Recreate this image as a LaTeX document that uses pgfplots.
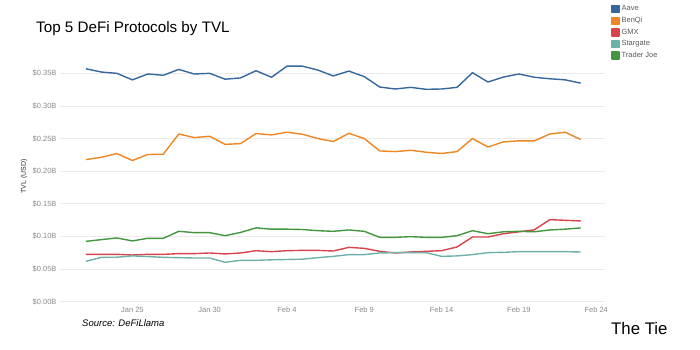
\documentclass[border=0pt]{standalone}
\usepackage{pgfplots}
\pgfplotsset{compat=1.18}
\usepackage{pgfplotstable}
\usepackage{fontspec}
\setmainfont{Liberation Sans}
\definecolor{aave}{HTML}{36689C}
\definecolor{benqi}{HTML}{EE8623}
\definecolor{gmx}{HTML}{D9434B}
\definecolor{stargate}{HTML}{6FB0AD}
\definecolor{tj}{HTML}{43963F}
\definecolor{tickgrey}{HTML}{8A8A8A}
\definecolor{gridgrey}{HTML}{EBEBEB}
\pgfplotstableread{
d aave benqi gmx stargate tj
22 0.357 0.2178 0.0724 0.0617 0.0923
23 0.352 0.2213 0.0724 0.0678 0.0950
24 0.350 0.2270 0.0724 0.0680 0.0975
25 0.340 0.2163 0.0714 0.0700 0.0930
26 0.349 0.2255 0.0724 0.0690 0.0970
27 0.347 0.2260 0.0724 0.0678 0.0970
28 0.356 0.2570 0.0735 0.0673 0.1077
29 0.349 0.2515 0.0735 0.0668 0.1057
30 0.350 0.2535 0.0745 0.0668 0.1057
31 0.341 0.2410 0.0730 0.0602 0.1010
32 0.343 0.2423 0.0745 0.0632 0.1060
33 0.354 0.2577 0.0780 0.0632 0.1130
34 0.344 0.2556 0.0765 0.0640 0.1110
35 0.361 0.2597 0.0780 0.0645 0.1110
36 0.361 0.2566 0.0785 0.0650 0.1105
37 0.355 0.2500 0.0785 0.0673 0.1087
38 0.346 0.2454 0.0775 0.0693 0.1077
39 0.3535 0.2580 0.0831 0.0720 0.1098
40 0.345 0.2500 0.0816 0.0720 0.1077
41 0.329 0.2310 0.0770 0.0745 0.0985
42 0.326 0.2300 0.0745 0.0750 0.0985
43 0.3285 0.2320 0.0760 0.0750 0.0995
44 0.3255 0.2290 0.0770 0.0750 0.0985
45 0.326 0.2270 0.0780 0.0693 0.0985
46 0.3285 0.2300 0.0837 0.0700 0.1010
47 0.351 0.2500 0.0990 0.0720 0.1087
48 0.3367 0.2370 0.0990 0.0750 0.1040
49 0.3443 0.2449 0.1040 0.0755 0.1070
50 0.349 0.2465 0.1070 0.0765 0.1077
51 0.344 0.2465 0.1100 0.0765 0.1070
52 0.3417 0.2570 0.1256 0.0765 0.1098
53 0.340 0.2597 0.1246 0.0765 0.1110
54 0.335 0.2485 0.1236 0.0760 0.1130
}\datatable
\begin{document}
\begin{tikzpicture}
\useasboundingbox (0,0) rectangle (700pt,-350pt);
\begin{axis}[
  at={(60pt,-303.5pt)}, anchor=south west,
  scale only axis, width=545pt, height=243.2pt,
  xmin=20.32, xmax=55.57,
  ymin=-0.003, ymax=0.37,
  axis line style={draw=none},
  ymajorgrids, grid style={gridgrey, line width=0.8pt},
  xtick={25,30,35,40,45,50,55},
  xticklabels={Jan 25,Jan 30,Feb 4,Feb 9,Feb 14,Feb 19,Feb 24},
  ytick={0,0.05,0.1,0.15,0.2,0.25,0.3,0.35},
  yticklabels={\$0.00B,\$0.05B,\$0.10B,\$0.15B,\$0.20B,\$0.25B,\$0.30B,\$0.35B},
  tick label style={font=\fontsize{7.5}{9}\selectfont, text=tickgrey},
  major tick length=0pt,
  tick style={draw=none},
  legend cell align=left,
  legend style={at={(1.011,1.233)}, anchor=north west, draw=none, fill=none,
    font=\fontsize{7.5}{9}\selectfont, text=black!65, inner sep=0pt, row sep=0.8pt},
  legend image code/.code={\fill[#1] (0pt,-3.5pt) rectangle (7pt,3.5pt);},
  every axis plot/.append style={line width=1.4pt, line join=round},
]
\addplot[color=aave] table[x=d, y=aave] {\datatable};
\addlegendentry{Aave}
\addplot[color=benqi] table[x=d, y=benqi] {\datatable};
\addlegendentry{BenQi}
\addplot[color=gmx] table[x=d, y=gmx] {\datatable};
\addlegendentry{GMX}
\addplot[color=stargate] table[x=d, y=stargate] {\datatable};
\addlegendentry{Stargate}
\addplot[color=tj] table[x=d, y=tj] {\datatable};
\addlegendentry{Trader Joe}
\end{axis}
\node[anchor=west, inner sep=0pt] at (36pt,-29pt) {\fontsize{15.2}{18}\selectfont Top 5 DeFi Protocols by TVL};
\node[rotate=90, inner sep=0pt, text=black!80] at (24pt,-176.5pt) {\fontsize{7}{8}\selectfont TVL (USD)};
\node[anchor=west, inner sep=0pt] at (82pt,-323.5pt) {\fontsize{9.5}{11}\selectfont\itshape Source: DeFiLlama};
\node[anchor=west, inner sep=0pt] at (611pt,-328pt) {\fontsize{16.8}{20}\selectfont The Tie};
\end{tikzpicture}
\end{document}
